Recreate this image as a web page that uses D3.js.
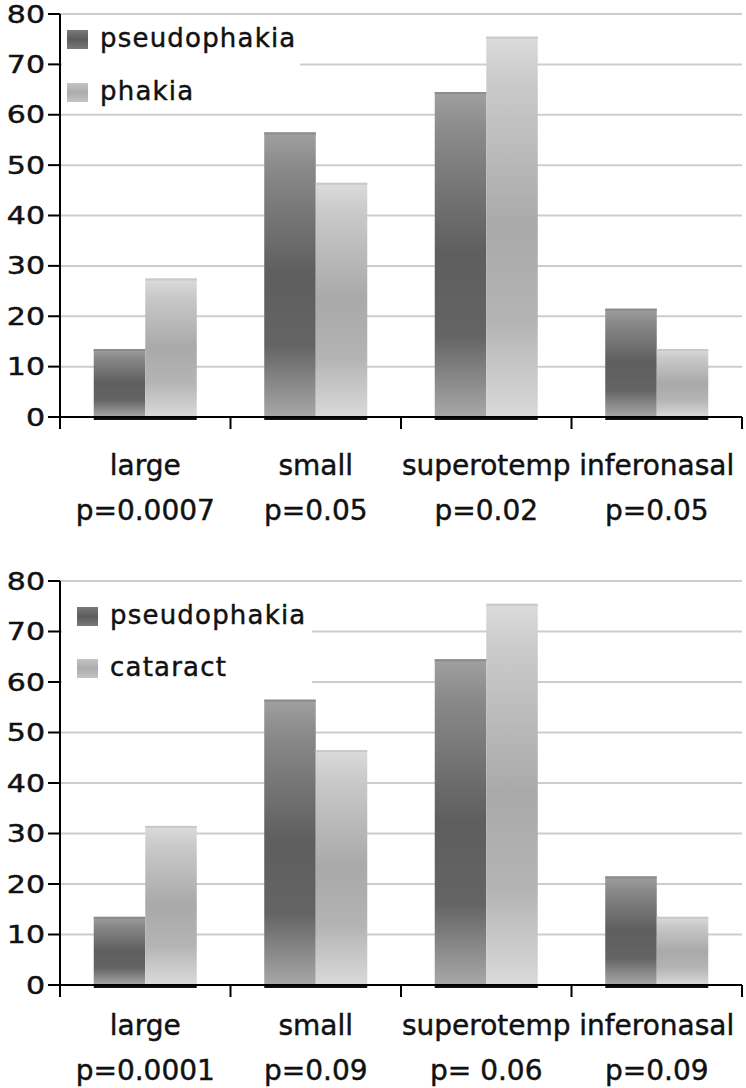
<!DOCTYPE html>
<html><head><meta charset="utf-8">
<script src="https://cdn.jsdelivr.net/npm/d3@7"></script>
<style>body{margin:0;background:#fff;}svg{display:block;} text{stroke:#111;stroke-width:0.45px;}</style>
</head><body>
<svg id="c" width="746" height="1088"></svg>
<script>
const categories = ["large", "small", "superotemp", "inferonasal"];
const pValuesTop = ["p=0.0007", "p=0.05", "p=0.02", "p=0.05"];
const pValuesBottom = ["p=0.0001", "p=0.09", "p= 0.06", "p=0.09"];
const pseudophakiaTop = [13.5, 56.5, 64.5, 21.5];
const phakiaTop = [27.5, 46.5, 75.5, 13.5];
const pseudophakiaBottom = [13.5, 56.5, 64.5, 21.5];
const cataractBottom = [31.5, 46.5, 75.5, 13.5];
const seriesTop = ["pseudophakia", "phakia"];
const seriesBottom = ["pseudophakia", "cataract"];
const yTicks = [0, 10, 20, 30, 40, 50, 60, 70, 80];

const svg = d3.select("#c");
const defs = svg.append("defs");
function grad(id, stops) {
  const g = defs.append("linearGradient").attr("id", id)
    .attr("x1", 0).attr("y1", 0).attr("x2", 0).attr("y2", 1);
  stops.forEach(s => g.append("stop").attr("offset", s[0]).attr("stop-color", s[1]));
}
grad("gDark", [[0, "#a0a0a0"], [0.12, "#8a8a8a"], [0.5, "#5e5e5e"], [0.75, "#646464"], [1, "#a8a8a8"]]);
grad("gLight", [[0, "#dcdcdc"], [0.12, "#cacaca"], [0.5, "#a9a9a9"], [0.75, "#b4b4b4"], [1, "#dadada"]]);
grad("sDark", [[0, "#7a7a7a"], [0.5, "#5c5c5c"], [1, "#7a7a7a"]]);
grad("sLight", [[0, "#c4c4c4"], [0.5, "#acacac"], [1, "#c4c4c4"]]);
const fills = ["url(#gDark)", "url(#gLight)"];
const swatches = ["url(#sDark)", "url(#sLight)"];

function drawChart(cfg) {
  const g = svg.append("g");
  const y = d3.scaleLinear().domain([0, 80]).range([cfg.y0, cfg.y80]);
  const x = d3.scaleBand().domain(categories).range([60, 742]).padding(0);
  const xs = d3.scaleBand().domain([0, 1]).range([0, x.bandwidth()]).paddingInner(0).paddingOuter(0.655);

  g.append("g").selectAll("line").data(yTicks.filter(d => d > 0)).join("line")
    .attr("x1", 60).attr("x2", 742)
    .attr("y1", d => y(d)).attr("y2", d => y(d))
    .attr("stroke", "#cdcdcd").attr("stroke-width", 2);

  g.append("rect").attr("x", 62).attr("y", cfg.legY - 28).attr("width", cfg.legW).attr("height", 92).attr("fill", "#fff");

  const rows = categories.map((c, i) => ({c, v: [cfg.a[i], cfg.b[i]]}));
  const grp = g.append("g").selectAll("g").data(rows).join("g")
    .attr("transform", d => `translate(${x(d.c)},0)`);
  grp.selectAll("rect.bar").data(d => d.v.map((v, k) => ({v, k}))).join("rect")
    .attr("class", "bar")
    .attr("x", d => xs(d.k)).attr("width", xs.bandwidth())
    .attr("y", d => y(d.v)).attr("height", d => y(0) - y(d.v))
    .attr("fill", d => fills[d.k]);
  grp.selectAll("rect.topedge").data(d => d.v.map((v, k) => ({v, k}))).join("rect")
    .attr("class", "topedge")
    .attr("x", d => xs(d.k)).attr("width", xs.bandwidth())
    .attr("y", d => y(d.v)).attr("height", 2)
    .attr("fill", d => d.k === 0 ? "#8c8c8c" : "#c8c8c8");
  grp.append("rect")
    .attr("x", xs(0)).attr("width", xs.bandwidth() * 2)
    .attr("y", y(0) - 1).attr("height", 4).attr("fill", "#111");

  g.append("line").attr("x1", 60).attr("x2", 60).attr("y1", y(80)).attr("y2", y(0) + 12)
    .attr("stroke", "#000").attr("stroke-width", 2);
  g.append("g").selectAll("line").data(yTicks).join("line")
    .attr("x1", 48).attr("x2", 60).attr("y1", d => y(d)).attr("y2", d => y(d))
    .attr("stroke", "#000").attr("stroke-width", 2);
  g.append("g").selectAll("text").data(yTicks).join("text")
    .attr("transform", d => `translate(45,${y(d) + 8.5}) scale(1.25,1)`)
    .attr("text-anchor", "end")
    .attr("font-family", "DejaVu Sans").attr("font-size", 24).attr("fill", "#111")
    .text(d => d);

  g.append("line").attr("x1", 60).attr("x2", 742).attr("y1", y(0)).attr("y2", y(0))
    .attr("stroke", "#000").attr("stroke-width", 2);
  const xt = [60].concat(categories.map(c => x(c) + x.bandwidth()));
  g.append("g").selectAll("line").data(xt).join("line")
    .attr("x1", d => d).attr("x2", d => d).attr("y1", y(0)).attr("y2", y(0) + 12)
    .attr("stroke", "#000").attr("stroke-width", 2);

  g.append("g").selectAll("text").data(categories).join("text")
    .attr("x", d => x(d) + x.bandwidth() / 2).attr("y", y(0) + cfg.l1)
    .attr("text-anchor", "middle")
    .attr("font-family", "DejaVu Sans").attr("font-size", 28).attr("fill", "#111")
    .text(d => d);
  g.append("g").selectAll("text").data(cfg.p).join("text")
    .attr("x", (d, i) => x(categories[i]) + x.bandwidth() / 2).attr("y", y(0) + cfg.l2)
    .attr("text-anchor", "middle")
    .attr("font-family", "DejaVu Sans").attr("font-size", 28).attr("fill", "#111")
    .text(d => d);

  const lg = g.append("g").selectAll("g").data(cfg.series).join("g")
    .attr("transform", (d, i) => `translate(${cfg.legX},${cfg.legY + i * cfg.legStep})`);
  lg.append("rect").attr("x", 0).attr("y", -17).attr("width", 21).attr("height", 19)
    .attr("fill", (d, i) => swatches[i]);
  lg.append("text").attr("x", 33).attr("y", 0)
    .attr("font-family", "DejaVu Sans").attr("font-size", 26).attr("letter-spacing", 1.2)
    .attr("fill", "#111").text(d => d);
}

drawChart({y0: 417, y80: 14, a: pseudophakiaTop, b: phakiaTop, p: pValuesTop, series: seriesTop,
  l1: 58, l2: 103, legX: 67, legY: 47, legStep: 53, legW: 238});
drawChart({y0: 985, y80: 581, a: pseudophakiaBottom, b: cataractBottom, p: pValuesBottom, series: seriesBottom,
  l1: 50, l2: 95, legX: 77, legY: 624, legStep: 52, legW: 250});
</script>
</body></html>
